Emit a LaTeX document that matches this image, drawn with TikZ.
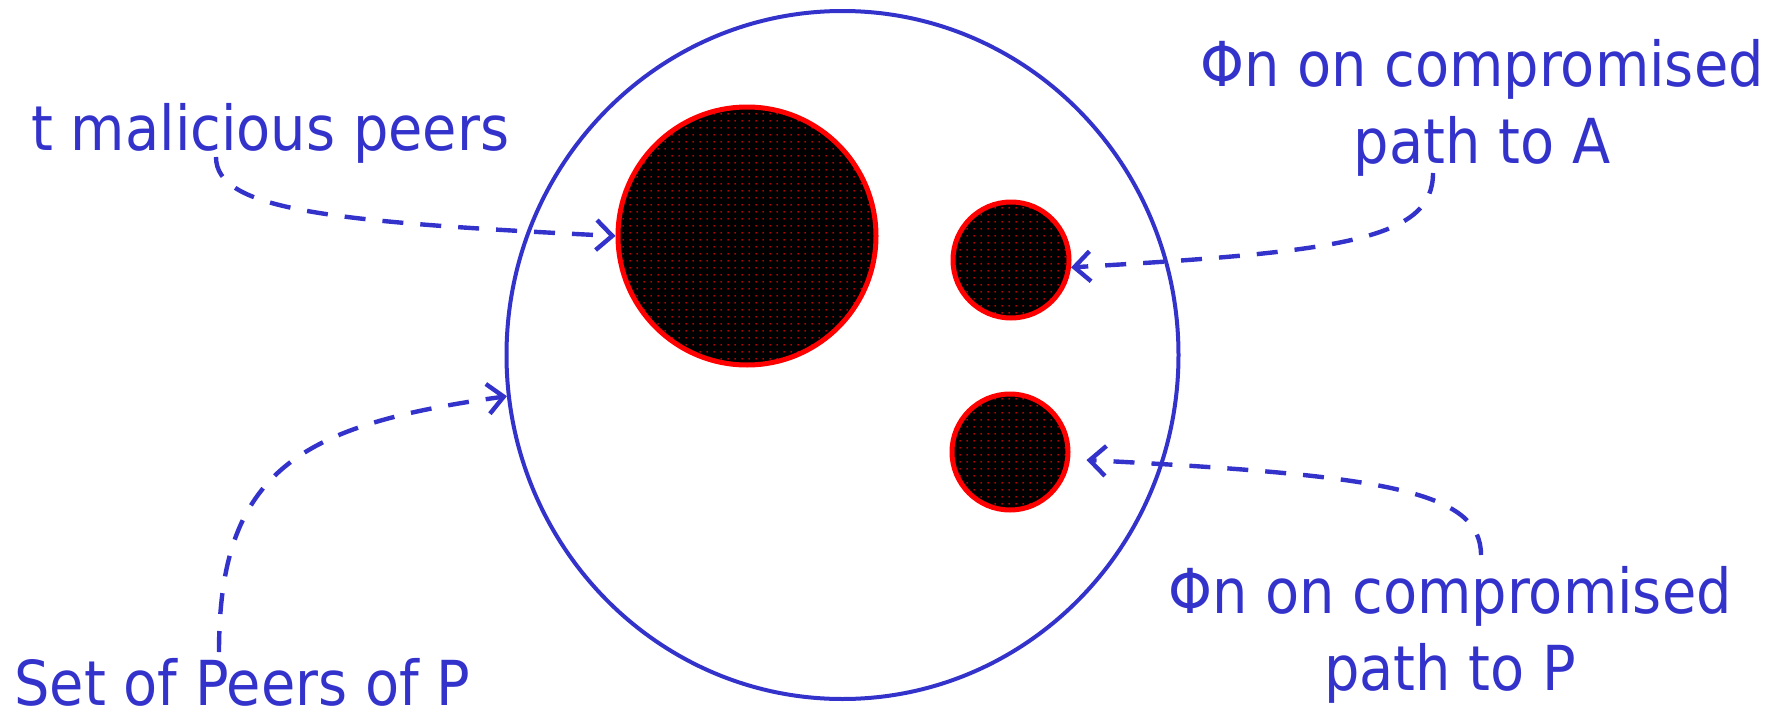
\documentclass[tikz,border=0pt]{standalone}
\usepackage{fontspec}
\setmainfont{DejaVu Sans}[FakeStretch=0.9]
\usetikzlibrary{arrows.meta,patterns,shapes.geometric}
\definecolor{penblue}{HTML}{3333CC}
\definecolor{dotred}{HTML}{FF0000}
\pgfdeclarepatternformonly{sparsedots}{\pgfpointorigin}{\pgfqpoint{3.3pt}{3.3pt}}%
  {\pgfqpoint{3.3pt}{3.3pt}}%
  {\pgfpathcircle{\pgfqpoint{1.65pt}{1.65pt}}{0.42pt}\pgfusepath{fill}}

\begin{document}
\begin{tikzpicture}[x=0.5pt,y=-0.5pt,
  note/.style={text=penblue,inner sep=0pt,align=center,
    font=\fontsize{31}{38.5}\selectfont},
  peerring/.style={ellipse,draw=penblue,line width=2pt,inner sep=0pt,
    minimum width=336pt,minimum height=344pt},
  badpeer/.style={circle,draw=dotred,line width=2.5pt,inner sep=0pt,
    preaction={fill=black},pattern=sparsedots,pattern color=dotred},
  pointer/.style={-{Straight Barb[length=8pt,width=15pt]},penblue,
    line width=2.2pt,dash pattern=on 10.5pt off 8.5pt}]

\useasboundingbox (0,0) rectangle (1785,712);

% peers of P and the compromised ones
\node[peerring] (peerset) at (842.5,355) {};
\node[badpeer,minimum size=129pt] (tset) at (747,236) {};
\node[badpeer,minimum size=58pt] (phiA) at (1011,260) {};
\node[badpeer,minimum size=58pt] (phiP) at (1010,452) {};

% labels
\node[note,anchor=base west] (mal) at (31,150) {t malicious peers};
\node[note,anchor=base west] (peers) at (14,705) {Set of Peers of P};
\node[note,anchor=base] (pathA) at (1482,163) {Φn on compromised\\path to A};
\node[note,anchor=base] (pathP) at (1450,690) {Φn on compromised\\path to P};

\draw[pointer] ([xshift=92.5pt,yshift=-3.5pt]mal.base west)
  .. controls (216,210) and (330,222) .. (tset.west);
\draw[pointer] ([xshift=102.5pt,yshift=26.5pt]peers.base west)
  .. controls (219,470) and (300,425) .. (peerset.187);
\draw[pointer] ([xshift=-24.5pt,yshift=-5pt]pathA.base)
  .. controls (1433,240) and (1340,252) .. (phiA.-7);
\draw[pointer] ([xshift=15.5pt,yshift=67.5pt]pathP.base)
  .. controls (1481,490) and (1380,475) .. ([xshift=8pt,yshift=-4pt]phiP.east);
\end{tikzpicture}
\end{document}
